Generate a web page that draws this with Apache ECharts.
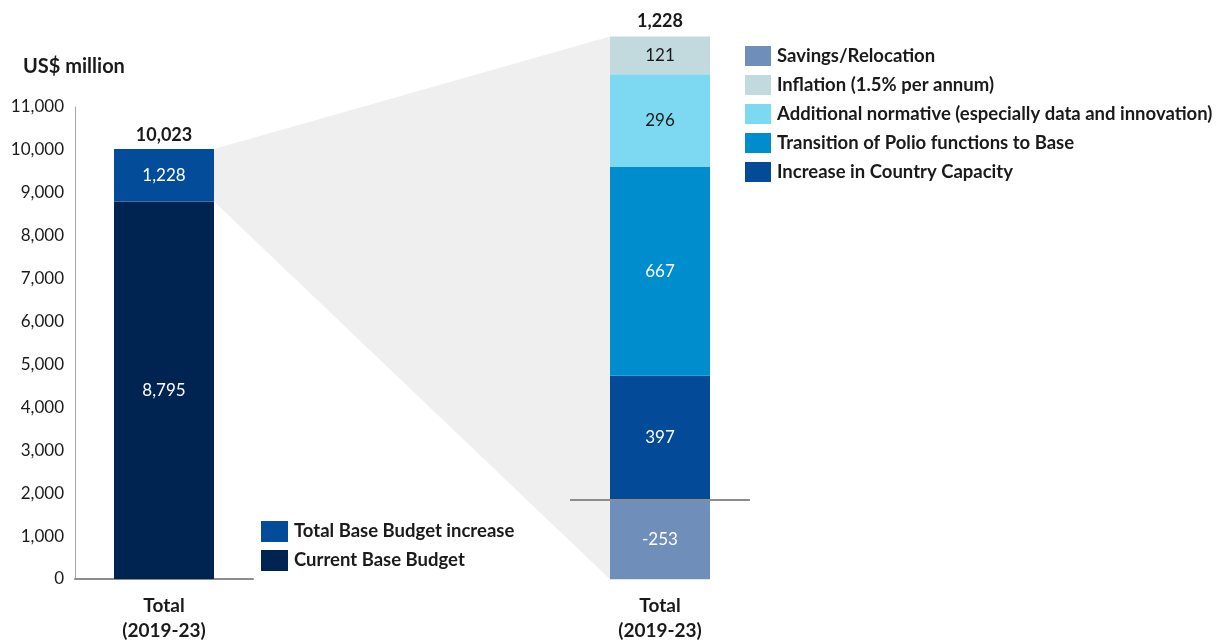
<!DOCTYPE html>
<html><head><meta charset="utf-8">
<script src="https://cdn.jsdelivr.net/npm/echarts@6/dist/echarts.min.js"></script>
<style>html,body{margin:0;padding:0;background:#fff}#c{width:1217px;height:640px}</style>
</head><body><div id="c"></div>
<script>
const categories = ['Total\n(2019-23)'];
const leftTicks = [0,1000,2000,3000,4000,5000,6000,7000,8000,9000,10000,11000];
const currentBase = [8795];
const baseIncrease = [1228];
const leftTotal = [10023];
const countryCapacity = [397];
const polioTransition = [667];
const additionalNormative = [296];
const inflation = [121];
const savings = [-253];
const rightTotal = [1228];

const FONT = 'Lato';
const fmt = v => v.toLocaleString('en-US');
const chart = echarts.init(document.getElementById('c'));

const segLabel = (color) => ({show:true, position:'inside', color:color, fontFamily:FONT, fontSize:17,
  formatter: p => fmt(p.value)});

const option = {
  animation:false,
  backgroundColor:'#fff',
  textStyle:{fontFamily:FONT},
  title:{text:'US$ million', left:23, top:57, padding:0, textStyle:{fontFamily:FONT, fontWeight:'bold', fontSize:20, color:'#1a1a1a'}},
  grid:[
    {left:75, top:107, width:178, height:472, containLabel:false, outerBoundsMode:'none'},
    {left:570, top:30.5, width:180, height:550.9, containLabel:false, outerBoundsMode:'none'}
  ],
  xAxis:[
    {gridIndex:0, type:'category', data:categories, axisLine:{lineStyle:{color:'#8c8c8c', width:2}}, axisTick:{show:false},
     axisLabel:{margin:14, fontFamily:FONT, fontWeight:'bold', fontSize:19, lineHeight:25, color:'#1a1a1a'}},
    {gridIndex:1, type:'category', data:categories, axisLine:{show:false}, axisTick:{show:false},
     axisLabel:{margin:11.5, fontFamily:FONT, fontWeight:'bold', fontSize:19, lineHeight:25, color:'#1a1a1a'}}
  ],
  yAxis:[
    {gridIndex:0, type:'value', min:leftTicks[0], max:leftTicks[leftTicks.length-1], interval:1000,
     axisLine:{show:true, lineStyle:{color:'#a6a6a6', width:1}}, axisTick:{show:false}, splitLine:{show:false},
     axisLabel:{margin:11, fontFamily:FONT, fontSize:17, color:'#1a1a1a', formatter:v=>fmt(v)}},
    {gridIndex:1, type:'value', min:-260, max:1500, show:false, splitLine:{show:false}}
  ],
  legend:[
    {data:['Total Base Budget increase','Current Base Budget'], orient:'vertical', left:261, top:521, padding:0,
     itemWidth:27, itemHeight:21, itemGap:8, icon:'rect',
     textStyle:{fontFamily:FONT, fontWeight:'bold', fontSize:18.5, color:'#1a1a1a', padding:[0,0,0,1]}},
    {data:['Savings/Relocation','Inflation (1.5% per annum)','Additional normative (especially data and innovation)','Transition of Polio functions to Base','Increase in Country Capacity'],
     orient:'vertical', left:745, top:46, padding:0, itemWidth:26, itemHeight:20, itemGap:9, icon:'rect',
     textStyle:{fontFamily:FONT, fontWeight:'bold', fontSize:18.5, color:'#1a1a1a', padding:[0,0,0,1]}}
  ],
  series:[
    {name:'Current Base Budget', type:'bar', stack:'L', xAxisIndex:0, yAxisIndex:0, barWidth:100, data:currentBase,
     itemStyle:{color:'#002452'}, label:segLabel('#ffffff')},
    {name:'Total Base Budget increase', type:'bar', stack:'L', xAxisIndex:0, yAxisIndex:0, barWidth:100, data:baseIncrease,
     itemStyle:{color:'#034c99'}, label:segLabel('#ffffff')},
    {name:'Increase in Country Capacity', type:'bar', stack:'R', xAxisIndex:1, yAxisIndex:1, barWidth:100, data:countryCapacity,
     itemStyle:{color:'#034b98'}, label:segLabel('#ffffff')},
    {name:'Transition of Polio functions to Base', type:'bar', stack:'R', xAxisIndex:1, yAxisIndex:1, barWidth:100, data:polioTransition,
     itemStyle:{color:'#008dcd'}, label:segLabel('#ffffff')},
    {name:'Additional normative (especially data and innovation)', type:'bar', stack:'R', xAxisIndex:1, yAxisIndex:1, barWidth:100, data:additionalNormative,
     itemStyle:{color:'#7dd9f1'}, label:segLabel('#1a1a1a')},
    {name:'Inflation (1.5% per annum)', type:'bar', stack:'R', xAxisIndex:1, yAxisIndex:1, barWidth:100, data:inflation,
     itemStyle:{color:'#c2dade'}, label:segLabel('#1a1a1a')},
    {name:'Savings/Relocation', type:'bar', stack:'R', xAxisIndex:1, yAxisIndex:1, barWidth:100, data:savings,
     itemStyle:{color:'#6f8fba'}, label:segLabel('#ffffff'),
     markLine:{silent:true, symbol:'none', label:{show:false}, lineStyle:{color:'#8c8c8c', width:2, type:'solid'}, data:[{yAxis:0}]}}
  ]
};
chart.setOption(option);

// decorative connector and totals, positioned from data via the axes
const toL = v => chart.convertToPixel({xAxisIndex:0, yAxisIndex:0}, [0, v]);
const toR = v => chart.convertToPixel({xAxisIndex:1, yAxisIndex:1}, [0, v]);
const half = 50;
const posSum = countryCapacity[0] + polioTransition[0] + additionalNormative[0] + inflation[0];
const negSum = savings[0];
const a = toL(leftTotal[0]), b = toR(posSum), c = toR(negSum), d = toL(currentBase[0]);
chart.setOption({
  graphic:[
    {type:'polygon', z:0, silent:true, shape:{points:[[a[0]+half, a[1]], [b[0]-half, b[1]], [c[0]-half, c[1]], [d[0]+half, d[1]]]},
     style:{fill:'#efefef'}},
    {type:'text', z:10, x:a[0], y:a[1]-5, style:{text:fmt(leftTotal[0]), font:'bold 18px '+FONT, fill:'#1a1a1a', textAlign:'center', textVerticalAlign:'bottom'}},
    {type:'text', z:10, x:b[0], y:b[1]-6, style:{text:fmt(rightTotal[0]), font:'bold 18px '+FONT, fill:'#1a1a1a', textAlign:'center', textVerticalAlign:'bottom'}}
  ]
});
</script></body></html>
